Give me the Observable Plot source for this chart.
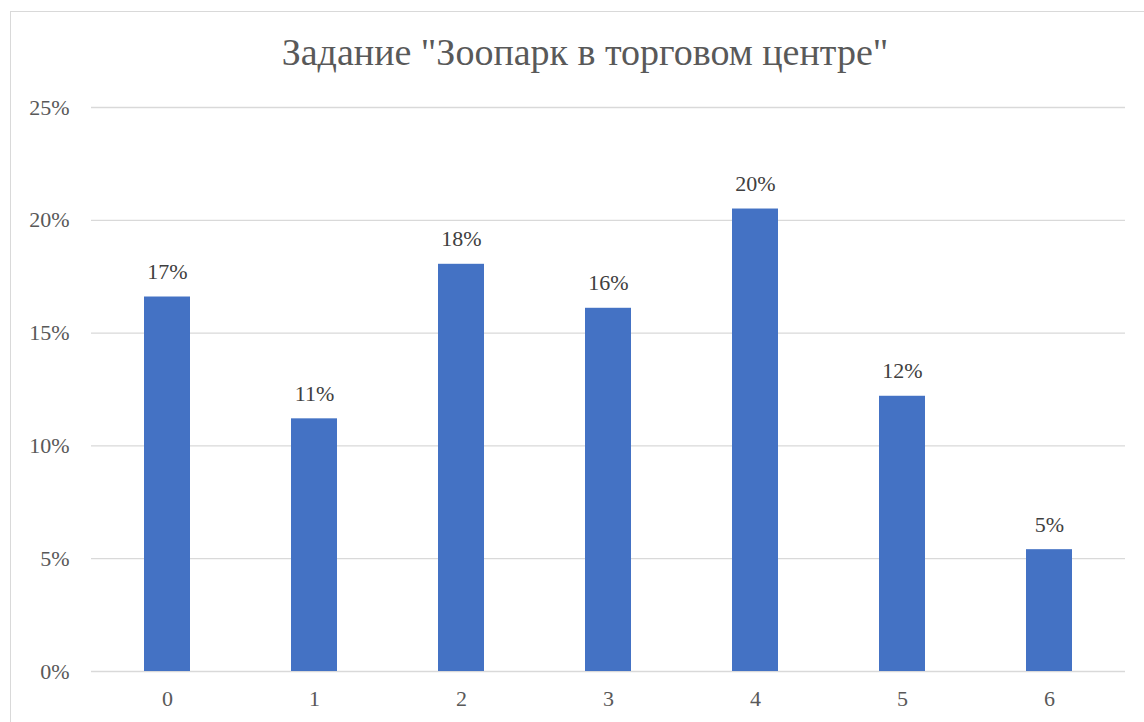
<!DOCTYPE html>
<html>
<head>
<meta charset="utf-8">
<script src="https://cdn.jsdelivr.net/npm/d3@7"></script>
<script src="https://cdn.jsdelivr.net/npm/@observablehq/plot@0.6"></script>
<style>
  html, body { margin: 0; padding: 0; background: #fff; font-family: Liberation Serif, Tinos, serif; }
  #wrap { position: relative; width: 1144px; height: 722px; overflow: hidden; }
  #frame { position: absolute; left: 10px; top: 11px; width: 1150px; height: 730px; border: 1px solid #d9d9d9; box-sizing: border-box; }
  #title { position: absolute; left: 235px; width: 700px; top: 29px; text-align: center; font-size: 38px; color: #595959; white-space: nowrap; line-height: 46px; font-family: Liberation Serif, Tinos, serif; }
  #chart { position: absolute; left: 0; top: 0; }
</style>
</head>
<body>
<div id="wrap">
  <div id="frame"></div>
  <div id="title">Задание "Зоопарк в торговом центре"</div>
  <div id="chart"></div>
</div>
<script>
const categories = ["0", "1", "2", "3", "4", "5", "6"];
const values = [0.166, 0.112, 0.1805, 0.161, 0.205, 0.122, 0.054];
const labels = ["17%", "11%", "18%", "16%", "20%", "12%", "5%"];
const yTicks = [0, 0.05, 0.10, 0.15, 0.20, 0.25];

const data = categories.map((c, i) => ({cat: c, value: values[i], label: labels[i]}));

const chart = Plot.plot({
  width: 1144,
  height: 722,
  marginLeft: 91,
  marginRight: 19,
  marginTop: 107,
  marginBottom: 51,
  style: {fontFamily: "Liberation Serif", background: "transparent", overflow: "visible"},
  x: {domain: categories, paddingInner: 0.69, paddingOuter: 0.345, label: null},
  y: {domain: [0, 0.25], label: null},
  marks: [
    Plot.gridY(yTicks, {stroke: "#d9d9d9", strokeOpacity: 1, strokeWidth: 1.3}),
    Plot.barY(data, {x: "cat", y: "value", fill: "#4472C4"}),
    Plot.axisX({tickSize: 0, tickPadding: 19, fontSize: 22, color: "#595959"}),
    Plot.axisY({ticks: yTicks, tickFormat: d3.format(".0%"), tickSize: 0, tickPadding: 22, fontSize: 22, color: "#595959"}),
    Plot.text(data, {x: "cat", y: "value", text: "label", dy: -25, fontSize: 22, fill: "#404040"})
  ]
});
document.getElementById("chart").appendChild(chart);
</script>
</body>
</html>
